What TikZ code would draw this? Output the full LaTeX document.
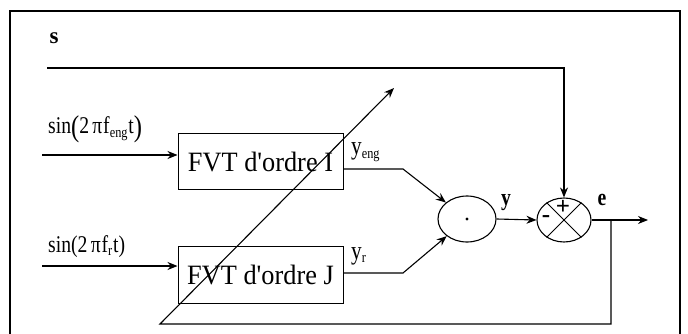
\documentclass[tikz,border=0pt]{standalone}
\usepackage{graphicx}
\usepackage{fontspec}
\setmainfont{Liberation Serif}
\usetikzlibrary{shapes.geometric,arrows.meta}
\tikzset{
  arr/.style={-{Stealth[length=10pt,width=8pt]}, line width=1.1pt},
  ln/.style={line width=1pt},
  blk/.style={draw, line width=1pt, rectangle, minimum width=165pt, inner sep=0pt, font=\fontsize{28}{28}\selectfont},
  opr/.style={draw, line width=1.1pt, ellipse, inner sep=0pt},
  lbl/.style={inner sep=0pt, font=\fontsize{24}{24}\selectfont},
}
\newcommand{\cx}[1]{\scalebox{0.82}[1]{#1}}
\newcommand{\subtxt}[1]{\raisebox{-3.5pt}{\fontsize{15}{15}\selectfont #1}}
\begin{document}
\begin{tikzpicture}[x=1pt,y=-1pt]
\useasboundingbox (0,0) rectangle (688,334);
% frame
\draw[line width=1.6pt] (10,334) -- (10,11) -- (680,11) -- (680,334);
% blocks
\node[blk, minimum height=55pt] (box1) at (260.5,161.5) {\scalebox{0.94}[1]{FVT d\textquotesingle ordre I}};
\node[blk, minimum height=57pt] (box2) at (260.5,274.5) {\scalebox{0.94}[1]{FVT d\textquotesingle ordre J}};
\node[opr, minimum width=58pt, minimum height=46pt] (prod) at (467,219) {};
\node[opr, minimum width=54pt, minimum height=44pt] (sum) at (564,220) {};
\fill (prod.center) circle (1.6pt);
\draw[ln] (sum.45) -- (sum.225);
\draw[ln] (sum.135) -- (sum.315);
\node[inner sep=0pt, font=\fontsize{25}{25}\selectfont\bfseries] (plus) at (563,207) {+};
\node[inner sep=0pt, font=\fontsize{25}{25}\selectfont\bfseries] (minus) at (546,219) {-};
% coordinates
\coordinate (s0) at (47,68);
\coordinate (in1) at (42,155);
\coordinate (in2) at (42,266);
\coordinate (o1) at (box1.east |- 0,169);
\coordinate (k1) at (403,169);
\coordinate (o2) at (box2.east |- 0,273);
\coordinate (k2) at (403,273);
\coordinate (fb) at (611,220);
\coordinate (bl) at (160,324);
\coordinate (tip) at (394,88);
\coordinate (eout) at (648,220);
% connectors
\draw[arr] (s0) -| (sum.north);
\draw[arr] (in1) -- (in1 -| box1.west);
\draw[arr] (in2) -- (in2 -| box2.west);
\draw[arr] (o1) -- (k1) -- (prod);
\draw[arr] (o2) -- (k2) -- (prod);
\draw[arr] (prod.east) -- (sum.west);
\draw[arr] (sum.east) -- (eout);
\draw[arr] (fb) |- (bl) -- (tip);
% labels
\node[lbl, font=\fontsize{23}{23}\selectfont\bfseries] (ls) at (54,38) {s};
\node[lbl, anchor=base west] (lsin1) at (48,134) {\cx{sin\raisebox{-3pt}{\fontsize{30}{30}\selectfont(}2\,π\kern1pt f\subtxt{eng}\kern1pt t\raisebox{-3pt}{\fontsize{30}{30}\selectfont)}}};
\node[lbl, anchor=base west] (lsin2) at (48,252) {\cx{sin(2\,π\kern1pt f\subtxt{r}\kern1pt t)}};
\node[lbl, anchor=base west, font=\fontsize{26}{26}\selectfont] (lyeng) at (351,155) {\cx{y\subtxt{eng}}};
\node[lbl, anchor=base west, font=\fontsize{26}{26}\selectfont] (lyr) at (351,259) {\cx{y\subtxt{r}}};
\node[lbl, anchor=base, font=\fontsize{24}{24}\selectfont\bfseries] (ly) at (506,205) {\cx{y}};
\node[lbl, anchor=base, font=\fontsize{24}{24}\selectfont\bfseries] (le) at (602,205) {\cx{e}};
\end{tikzpicture}
\end{document}
